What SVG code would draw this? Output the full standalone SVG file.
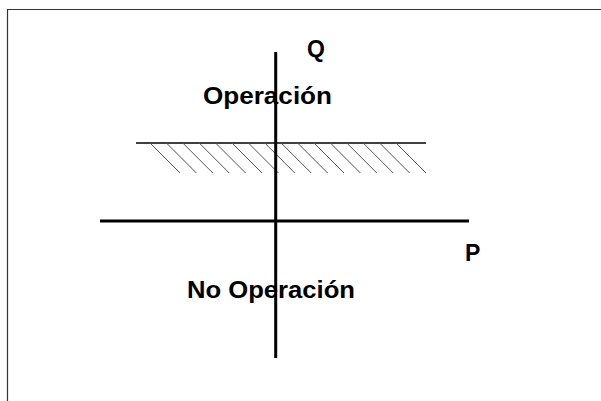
<svg xmlns="http://www.w3.org/2000/svg" width="601" height="401" viewBox="0 0 601 401">
<style>
.lbl{font-family:"Liberation Sans",Arial,sans-serif;font-weight:bold;font-size:23px;fill:#000}
.axis{stroke:#000;stroke-width:3;fill:none}
.hatch{stroke:#555;stroke-width:1;fill:none}
</style>
<rect width="601" height="401" fill="#fff"/>
<path d="M7.5,401 V9.5 H601" fill="none" stroke="#333" stroke-width="1.2"/>
<g id="hatching">
<line x1="136" y1="143" x2="426" y2="143" stroke="#000" stroke-width="1.6"/>
<path class="hatch" d="M150,143 l30,30 M166.4,143 l30,30 M182.8,143 l30,30 M199.2,143 l30,30 M215.6,143 l30,30 M232,143 l30,30 M248.4,143 l30,30 M264.8,143 l30,30 M281.2,143 l30,30 M297.6,143 l30,30 M314,143 l30,30 M330.4,143 l30,30 M346.8,143 l30,30 M363.2,143 l30,30 M379.6,143 l30,30 M396,143 l30,30"/>
</g>
<g id="connectors">
<line class="axis" x1="100" y1="221" x2="469" y2="221"/>
<line class="axis" x1="275.7" y1="52" x2="275.7" y2="358"/>
</g>
<g id="label-Q"><text class="lbl" x="307" y="56.5">Q</text></g>
<g id="label-P"><text class="lbl" x="465" y="260.5">P</text></g>
<g id="label-operacion"><text class="lbl" x="203" y="103.5" textLength="129" lengthAdjust="spacingAndGlyphs">Operación</text></g>
<g id="label-no-operacion"><text class="lbl" x="187" y="297.5" textLength="168" lengthAdjust="spacingAndGlyphs">No Operación</text></g>
</svg>
